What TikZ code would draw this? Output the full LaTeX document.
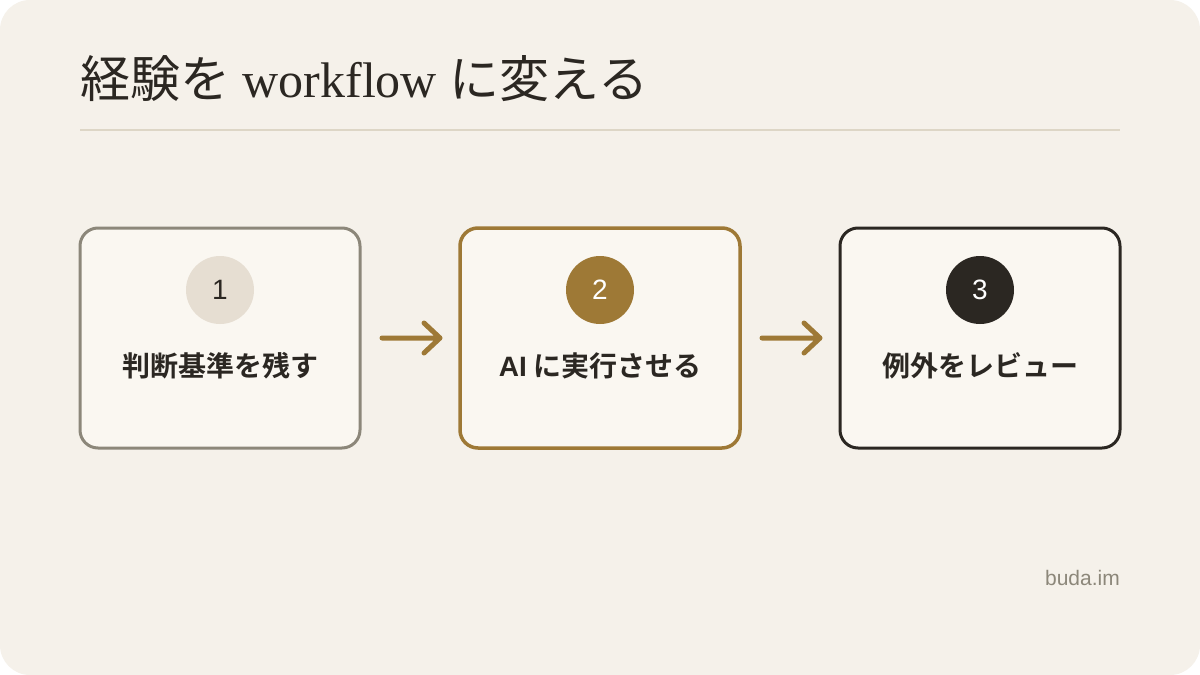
\documentclass[tikz,border=0pt]{standalone}
\usepackage{fontspec}
\setmainfont{Liberation Serif}
\newfontfamily\cjk{Noto Sans CJK JP}
\newfontfamily\cjkb{Noto Sans CJK JP Bold}
\newfontfamily\lsans{Liberation Sans}
\definecolor{bg}{HTML}{F5F1EA}
\definecolor{card}{HTML}{FAF7F1}
\definecolor{gray1}{HTML}{8C877A}
\definecolor{gold}{HTML}{9E7936}
\definecolor{dark}{HTML}{2B2722}
\definecolor{pale}{HTML}{E6DED2}
\definecolor{rule}{HTML}{DDD6C6}
\begin{document}
\begin{tikzpicture}[x=1pt,y=-1pt,
  box/.style={draw, line width=3pt, fill=card, rounded corners=18pt, minimum width=280pt, minimum height=220pt, inner sep=0pt},
  num/.style={circle, minimum size=68pt, inner sep=0pt, font=\lsans\fontsize{28}{30}\selectfont},
  lab/.style={font=\cjkb\fontsize{28}{32}\selectfont, text=dark},
  arr/.style={draw=gold, line width=5pt, line cap=round, line join=round}]
\useasboundingbox (0,0) rectangle (1200,675);
\fill[white] (0,0) rectangle (1200,675);
\fill[bg, rounded corners=30pt] (0,0) rectangle (1200,675);
\node[anchor=base west, text=dark, inner sep=0pt] (title) at (80,97)
  {\fontsize{50}{56}\selectfont{\cjk 経験を} workflow {\cjk に変える}};
\coordinate (r1) at (80,130); \coordinate (r2) at (1120,130);
\draw[rule, line width=2pt] (r1) -- (r2);
\node[box, draw=gray1] (b1) at (220,338) {};
\node[box, draw=gold, line width=3.5pt] (b2) at (600,338) {};
\node[box, draw=dark] (b3) at (980,338) {};
\node[num, fill=pale, text=dark] (n1) at (220,290) {1};
\node[num, fill=gold, text=white] (n2) at (600,290) {2};
\node[num, fill=dark, text=white] (n3) at (980,290) {3};
\node[lab] (l1) at (220,366) {判断基準を残す};
\node[lab] (l2) at (600,366) {{\lsans\bfseries AI} に実行させる};
\node[lab] (l3) at (980,366) {例外をレビュー};
\coordinate (a1s) at (382,338); \coordinate (a1e) at (440,338);
\coordinate (a2s) at (762,338); \coordinate (a2e) at (820,338);
\draw[arr] (a1s) -- (a1e) ++(-16,-15) -- (a1e) -- ++(-16,15);
\draw[arr] (a2s) -- (a2e) ++(-16,-15) -- (a2e) -- ++(-16,15);
\node[anchor=base east, text=gray1, font=\lsans\fontsize{21}{24}\selectfont, inner sep=0pt] (brand) at (1120,585) {buda.im};
\end{tikzpicture}
\end{document}
